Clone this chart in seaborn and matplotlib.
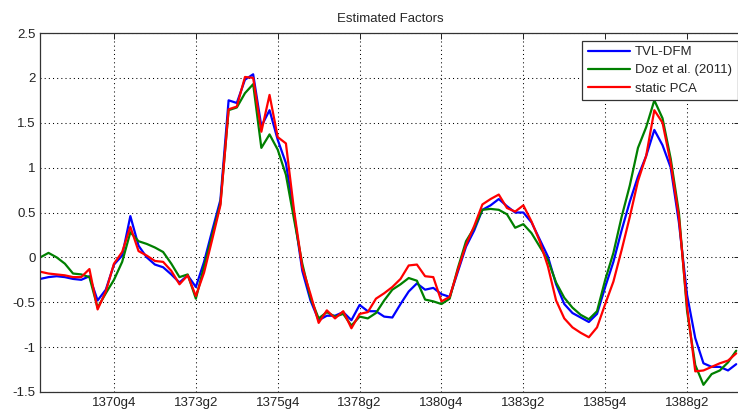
import numpy as np
import pandas as pd
import matplotlib
matplotlib.use("Agg")
import matplotlib.pyplot as plt
import seaborn as sns

# quarterly factor estimates, first point is 1368g3
tvl_dfm = [-0.24, -0.22, -0.21, -0.22, -0.24, -0.25, -0.21, -0.48, -0.36, -0.08,
           0.02, 0.46, 0.13, 0.00, -0.08, -0.11, -0.19, -0.28, -0.20, -0.33,
           -0.05, 0.30, 0.64, 1.75, 1.72, 1.98, 2.04, 1.46, 1.64, 1.31,
           1.05, 0.48, -0.15, -0.48, -0.70, -0.65, -0.65, -0.61, -0.70, -0.53,
           -0.60, -0.60, -0.66, -0.67, -0.52, -0.38, -0.29, -0.36, -0.34, -0.41,
           -0.44, -0.16, 0.12, 0.30, 0.53, 0.58, 0.65, 0.57, 0.50, 0.50,
           0.39, 0.20, 0.01, -0.30, -0.52, -0.62, -0.67, -0.72, -0.63, -0.33,
           -0.05, 0.30, 0.62, 0.90, 1.13, 1.42, 1.25, 1.00, 0.39, -0.42,
           -0.90, -1.18, -1.22, -1.22, -1.26, -1.19]

doz_2011 = [0.00, 0.05, 0.00, -0.07, -0.18, -0.19, -0.22, -0.56, -0.40, -0.25,
            -0.05, 0.28, 0.18, 0.15, 0.11, 0.06, -0.07, -0.22, -0.19, -0.46,
            -0.10, 0.25, 0.60, 1.64, 1.67, 1.83, 1.93, 1.22, 1.37, 1.20,
            0.92, 0.42, -0.07, -0.45, -0.68, -0.61, -0.66, -0.63, -0.76, -0.66,
            -0.68, -0.62, -0.48, -0.36, -0.30, -0.23, -0.26, -0.47, -0.49, -0.52,
            -0.46, -0.12, 0.18, 0.33, 0.53, 0.54, 0.53, 0.48, 0.33, 0.37,
            0.27, 0.12, -0.03, -0.28, -0.45, -0.56, -0.64, -0.69, -0.60, -0.25,
            0.05, 0.45, 0.80, 1.22, 1.45, 1.75, 1.55, 1.10, 0.50, -0.60,
            -1.20, -1.42, -1.30, -1.26, -1.17, -1.04]

static_pca = [-0.16, -0.18, -0.19, -0.20, -0.22, -0.22, -0.13, -0.58, -0.38, -0.07,
              0.06, 0.34, 0.07, 0.02, -0.04, -0.05, -0.15, -0.30, -0.20, -0.43,
              -0.17, 0.20, 0.58, 1.65, 1.68, 2.01, 2.00, 1.40, 1.81, 1.34,
              1.27, 0.52, -0.11, -0.41, -0.73, -0.59, -0.68, -0.60, -0.79, -0.63,
              -0.61, -0.46, -0.40, -0.33, -0.24, -0.09, -0.08, -0.21, -0.22, -0.49,
              -0.44, -0.14, 0.14, 0.35, 0.59, 0.65, 0.70, 0.55, 0.51, 0.58,
              0.40, 0.18, -0.10, -0.48, -0.68, -0.78, -0.84, -0.89, -0.78, -0.52,
              -0.27, 0.08, 0.45, 0.85, 1.13, 1.64, 1.50, 1.05, 0.45, -0.55,
              -1.27, -1.26, -1.22, -1.18, -1.15, -1.07]

tick_labels = ['1370g4', '1373g2', '1375g4', '1378g2',
               '1380g4', '1383g2', '1385g4', '1388g2']
series_names = ['TVL-DFM', 'Doz et al. (2011)', 'static PCA']
series_colors = ['#0000ff', '#008000', '#ff0000']

sns.set_style("white")
plt.rcParams['font.family'] = ['Liberation Sans', 'DejaVu Sans']

t = np.arange(len(tvl_dfm))
df = pd.DataFrame({'t': t, 'TVL-DFM': tvl_dfm,
                   'Doz et al. (2011)': doz_2011, 'static PCA': static_pca})

fig = plt.figure(figsize=(7.38, 4.12), dpi=100)
ax = fig.add_axes([40.3 / 738, 20 / 412, 700 / 738, 359 / 412])

for name, col in zip(series_names, series_colors):
    sns.lineplot(data=df, x='t', y=name, color=col, linewidth=1.6,
                 label=name, ax=ax)

ax.set_xlim(0, 85.5)
ax.set_ylim(-1.5, 2.5)
ax.set_yticks(np.arange(-1.5, 2.51, 0.5))
ax.set_yticklabels(['-1.5', '-1', '-0.5', '0', '0.5', '1', '1.5', '2', '2.5'])
ax.set_xticks(9 + 10 * np.arange(len(tick_labels)))
ax.set_xticklabels(tick_labels)
ax.set_xlabel('')
ax.set_ylabel('')

ax.grid(True, color='k', linestyle=(0, (1, 3)), linewidth=0.75)
ax.tick_params(direction='in', length=4, width=0.7, labelsize=9.5,
               colors='#222222', top=True, right=True, pad=3.5)
for sp in ax.spines.values():
    sp.set_color('#333333')
    sp.set_linewidth(0.9)

ax.set_title('Estimated Factors', fontsize=9.5, pad=8)

leg = ax.legend(loc='upper right', bbox_to_anchor=(737.5 / 738, 1 - 40.7 / 412),
                bbox_transform=fig.transFigure, borderaxespad=0,
                fontsize=9.5, handlelength=3.2, handletextpad=0.4,
                labelspacing=0.45, borderpad=0.4, fancybox=False,
                framealpha=1, edgecolor='#333333')
leg.get_frame().set_linewidth(0.9)

fig.savefig('out.png', dpi=100)
